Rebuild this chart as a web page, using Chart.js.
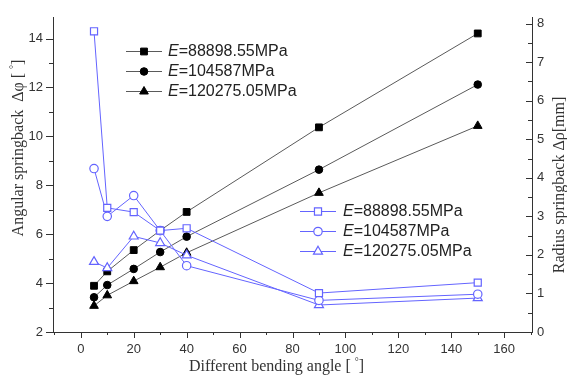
<!DOCTYPE html>
<html>
<head>
<meta charset="utf-8">
<script src="https://cdn.jsdelivr.net/npm/chart.js@4.4.1/dist/chart.umd.min.js"></script>
<style>
  html, body { margin: 0; padding: 0; background: #fff; }
  #wrap { width: 567px; height: 379px; }
</style>
</head>
<body>
<div id="wrap"><canvas id="chart"></canvas></div>
<script>
// Bending angles [deg]
const angles = [5, 10, 20, 30, 40, 90, 150];

// Angular springback (left axis) [deg]
const angular88898 = [3.89, 4.48, 5.35, 6.15, 6.91, 10.37, 14.21];
const angular104587 = [3.42, 3.92, 4.58, 5.27, 5.90, 8.64, 12.12];
const angular120275 = [3.07, 3.50, 4.08, 4.65, 5.24, 7.69, 10.43];

// Radius springback (right axis) [mm]
const radius88898 = [7.80, 3.22, 3.11, 2.63, 2.69, 1.01, 1.28];
const radius104587 = [4.24, 3.00, 3.54, 2.63, 1.72, 0.82, 0.98];
const radius120275 = [1.82, 1.66, 2.48, 2.31, 1.99, 0.70, 0.88];

// Series names (shown after an italic "E")
const moduli = ['=88898.55MPa', '=104587MPa', '=120275.05MPa'];

// Tick labels
const xTickLabels = [0, 20, 40, 60, 80, 100, 120, 140, 160];
const leftTickLabels = [2, 4, 6, 8, 10, 12, 14];
const rightTickLabels = [0, 1, 2, 3, 4, 5, 6, 7, 8];

const BLUE = '#6464ff';
const BLACK = '#000';
const GREY = '#5a5a5a';
const AXIS = '#333';

const pts = vals => angles.map((a, i) => ({ x: a, y: vals[i] }));

function blackSet(vals, style, r) {
  return {
    data: pts(vals), yAxisID: 'y', order: 1,
    borderColor: GREY, borderWidth: 1,
    pointStyle: style, pointRadius: r,
    pointBackgroundColor: BLACK, pointBorderColor: BLACK, pointBorderWidth: 1
  };
}

function blueSet(vals, style, r) {
  return {
    data: pts(vals), yAxisID: 'y2', order: 0,
    borderColor: BLUE, borderWidth: 1,
    pointStyle: style, pointRadius: r,
    pointBackgroundColor: '#fff', pointBorderColor: BLUE, pointBorderWidth: 1.2
  };
}

const markers = [
  { style: 'rect', rb: 4.8, rw: 5 },
  { style: 'circle', rb: 3.8, rw: 4.2 },
  { style: 'triangle', rb: 5, rw: 5.2 }
];

// Minor / major tick marks (Chart.js only does one tick length)
const tickMarks = {
  id: 'tickMarks',
  afterDraw(chart) {
    const ctx = chart.ctx;
    const { x, y, y2 } = chart.scales;
    ctx.save();
    ctx.strokeStyle = AXIS;
    ctx.lineWidth = 1;
    ctx.beginPath();
    x.ticks.forEach(t => {
      if (t.value % 10 !== 0) return;
      const px = Math.round(x.getPixelForValue(t.value)) + 0.5;
      const len = t.value % 20 === 0 ? 6 : 3;
      ctx.moveTo(px, x.top);
      ctx.lineTo(px, x.top + len);
    });
    y.ticks.forEach(t => {
      if (!Number.isInteger(t.value)) return;
      const py = Math.round(y.getPixelForValue(t.value)) + 0.5;
      const len = t.value % 2 === 0 ? 7 : 4;
      ctx.moveTo(y.right - len, py);
      ctx.lineTo(y.right, py);
    });
    y2.ticks.forEach(t => {
      if (Math.round(t.value * 2) !== t.value * 2) return;
      const py = Math.round(y2.getPixelForValue(t.value)) + 0.5;
      const len = Number.isInteger(t.value) ? 6 : 4;
      ctx.moveTo(y2.left - len, py);
      ctx.lineTo(y2.left, py);
    });
    ctx.stroke();
    ctx.restore();
  }
};

// Axis titles drawn by hand (right one reads bottom-to-top like the left one)
function drawTitle(ctx, x, y, rot, before, after) {
  ctx.save();
  ctx.translate(x, y);
  ctx.rotate(rot);
  ctx.fillStyle = AXIS;
  ctx.textBaseline = 'middle';
  ctx.font = '16px "Liberation Serif"';
  const w1 = ctx.measureText(before).width;
  let total = w1;
  let wDeg = 0, w2 = 0;
  if (after !== undefined) {
    ctx.font = '10px "Liberation Serif"';
    wDeg = ctx.measureText('°').width;
    ctx.font = '16px "Liberation Serif"';
    w2 = ctx.measureText(after).width;
    total += wDeg + w2;
  }
  let cx = -total / 2;
  ctx.textAlign = 'left';
  ctx.fillText(before, cx, 0);
  if (after !== undefined) {
    cx += w1;
    ctx.font = '10px "Liberation Serif"';
    ctx.fillText('°', cx, -5);
    cx += wDeg;
    ctx.font = '16px "Liberation Serif"';
    ctx.fillText(after, cx, 0);
  }
  ctx.restore();
}

const axisTitles = {
  id: 'axisTitles',
  afterDraw(chart) {
    const ctx = chart.ctx;
    const a = chart.chartArea;
    drawTitle(ctx, (a.left + a.right) / 2 - 16, 367, 0, 'Different bending angle [ ', ']');
    drawTitle(ctx, 19, 148, -Math.PI / 2, 'Angular springback  \u0394\u03c6 [ ', ']');
    drawTitle(ctx, 560, 185, -Math.PI / 2, 'Radius springback \u0394\u03c1[mm]');
  }
};

// Two legend boxes, placed as in the figure
function drawLegend(ctx, x0, x1, xText, ys, color, filled) {
  ys.forEach((yy, i) => {
    const m = markers[i];
    ctx.save();
    ctx.strokeStyle = color === BLUE ? BLUE : GREY;
    ctx.lineWidth = 1;
    ctx.beginPath();
    ctx.moveTo(x0, yy + 0.5);
    ctx.lineTo(x1, yy + 0.5);
    ctx.stroke();
    ctx.fillStyle = filled ? BLACK : '#fff';
    ctx.strokeStyle = color;
    ctx.lineWidth = filled ? 1 : 1.2;
    Chart.helpers.drawPoint(ctx, {
      pointStyle: m.style,
      radius: filled ? m.rb : m.rw,
      borderWidth: ctx.lineWidth,
      rotation: 0
    }, (x0 + x1) / 2, yy + 0.5);
    ctx.fillStyle = '#222';
    ctx.textBaseline = 'middle';
    ctx.textAlign = 'left';
    ctx.font = 'italic 16px "Liberation Sans"';
    ctx.fillText('E', xText, yy + 1);
    const w = ctx.measureText('E').width;
    ctx.font = '16px "Liberation Sans"';
    ctx.fillText(moduli[i], xText + w, yy + 1);
    ctx.restore();
  });
}

const legends = {
  id: 'legends',
  afterDraw(chart) {
    const ctx = chart.ctx;
    drawLegend(ctx, 126, 162, 168, [51, 71, 91], BLACK, true);
    drawLegend(ctx, 300, 336, 343, [211, 231, 251], BLUE, false);
  }
};

const tickFont = { family: '"Liberation Sans", Arial, sans-serif', size: 13 };

new Chart(document.getElementById('chart'), {
  type: 'line',
  data: {
    datasets: [
      blackSet(angular88898, markers[0].style, markers[0].rb),
      blackSet(angular104587, markers[1].style, markers[1].rb),
      blackSet(angular120275, markers[2].style, markers[2].rb),
      blueSet(radius88898, markers[0].style, markers[0].rw),
      blueSet(radius104587, markers[1].style, markers[1].rw),
      blueSet(radius120275, markers[2].style, markers[2].rw)
    ]
  },
  options: {
    responsive: true,
    maintainAspectRatio: false,
    animation: false,
    layout: { padding: { top: 8, left: 0, right: 0, bottom: 0 } },
    plugins: {
      legend: { display: false },
      tooltip: { enabled: false }
    },
    scales: {
      x: {
        type: 'linear',
        min: -10.5,
        max: 170.5,
        grid: { display: false, drawTicks: false },
        border: { display: true, color: AXIS, width: 1 },
        ticks: {
          stepSize: 10,
          includeBounds: false,
          autoSkip: false,
          maxRotation: 0,
          padding: 10,
          color: AXIS,
          font: tickFont,
          callback: v => xTickLabels.includes(v) ? String(v) : ''
        },
        afterFit: s => { s.height = 47; }
      },
      y: {
        position: 'left',
        min: 2,
        max: 14.85,
        grid: { display: false, drawTicks: false },
        border: { display: true, color: AXIS, width: 1 },
        ticks: {
          stepSize: 1,
          includeBounds: false,
          autoSkip: false,
          padding: 10,
          color: AXIS,
          font: tickFont,
          callback: v => leftTickLabels.includes(v) ? String(v) : ''
        },
        afterFit: s => { s.width = 53; }
      },
      y2: {
        position: 'right',
        min: 0,
        max: 8.15,
        grid: { display: false, drawTicks: false },
        border: { display: true, color: AXIS, width: 1 },
        ticks: {
          stepSize: 0.5,
          includeBounds: false,
          autoSkip: false,
          padding: 5,
          color: AXIS,
          font: tickFont,
          callback: v => rightTickLabels.includes(v) ? String(v) : ''
        },
        afterFit: s => { s.width = 35; }
      }
    }
  },
  plugins: [tickMarks, axisTitles, legends]
});
</script>
</body>
</html>
